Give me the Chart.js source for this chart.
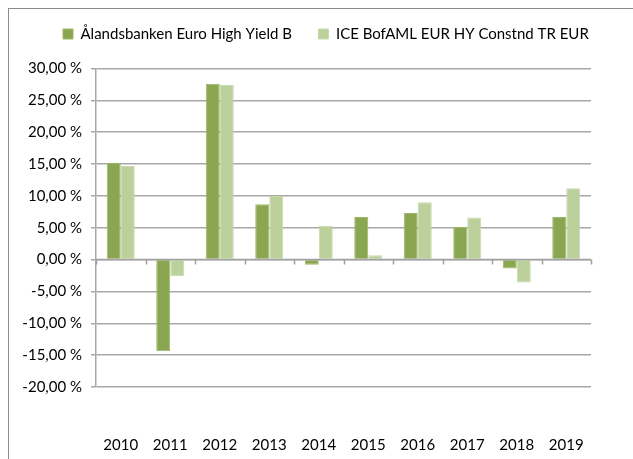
<!DOCTYPE html>
<html>
<head>
<meta charset="utf-8">
<script src="https://cdn.jsdelivr.net/npm/chart.js@4.4.0/dist/chart.umd.min.js"></script>
<style>
html, body { margin: 0; padding: 0; background: #fff; }
#wrap { position: relative; width: 633px; height: 459px; overflow: hidden; }
#frame { position: absolute; left: 8px; top: 8px; width: 700px; height: 600px; border-left: 1px solid #8c8c8c; border-top: 1px solid #8c8c8c; }
canvas { position: absolute; left: 0; top: 0; }
</style>
</head>
<body>
<div id="wrap">
  <div id="frame"></div>
  <canvas id="chart" width="633" height="459"></canvas>
</div>
<script>
var years = ['2010', '2011', '2012', '2013', '2014', '2015', '2016', '2017', '2018', '2019'];
var fundReturns = [15.2, -14.4, 27.6, 8.7, -0.8, 6.7, 7.3, 5.1, -1.4, 6.7];
var indexReturns = [14.7, -2.6, 27.4, 10.0, 5.3, 0.7, 9.0, 6.6, -3.6, 11.2];
var seriesNames = ['Ålandsbanken Euro High Yield B', 'ICE BofAML EUR HY Constnd TR EUR'];
var yMin = -20, yMax = 30, yStep = 5;

var FONT = 'Lato';
var FSIZE = 15;

// tick marks on the zero line between categories
var zeroTicks = {
  id: 'zeroTicks',
  afterDatasetsDraw: function (chart) {
    var x = chart.scales.x, y = chart.scales.y, ctx = chart.ctx;
    var y0 = y.getPixelForValue(0);
    var half = (x.getPixelForValue(1) - x.getPixelForValue(0)) / 2;
    ctx.save();
    ctx.strokeStyle = '#a0a0a0';
    ctx.lineWidth = 1.5;
    ctx.beginPath();
    ctx.moveTo(chart.chartArea.left, y0);
    ctx.lineTo(chart.chartArea.right, y0);
    for (var i = 0; i <= years.length; i++) {
      var px = Math.round(x.getPixelForValue(i) - half) + 0.5;
      ctx.moveTo(px, y0);
      ctx.lineTo(px, y0 + 5);
    }
    ctx.stroke();
    ctx.restore();
  }
};

// nudge the legend to the right (legend padding also sets the gap between items)
var legendShift = {
  id: 'legendShift',
  afterLayout: function (chart) {
    chart.legend.left += 36.5;
    chart.legend.right += 36.5;
  }
};

new Chart(document.getElementById('chart'), {
  type: 'bar',
  data: {
    labels: years,
    datasets: [{
      label: seriesNames[0],
      data: fundReturns,
      backgroundColor: '#8ba651',
      borderColor: '#9db867',
      borderWidth: 1
    }, {
      label: seriesNames[1],
      data: indexReturns,
      backgroundColor: '#bbd09a',
      borderColor: '#c8d9ab',
      borderWidth: 1
    }]
  },
  options: {
    responsive: false,
    animation: false,
    layout: { padding: { top: 0, right: 7, left: 0, bottom: 0 } },
    datasets: { bar: { categoryPercentage: 0.566, barPercentage: 1 } },
    plugins: {
      tooltip: { enabled: false },
      legend: {
        position: 'top',
        align: 'start',
        weight: 1000,
        labels: {
          boxWidth: 10,
          boxHeight: 10,
          padding: 26.5,
          color: '#000',
          font: { family: FONT, size: FSIZE }
        }
      },
      // empty title used as a spacer between legend and plot
      title: {
        display: true,
        text: '',
        weight: 500,
        padding: 0,
        font: { size: 17, lineHeight: 1 }
      }
    },
    scales: {
      x: {
        grid: { display: false, drawTicks: false },
        border: { display: false },
        ticks: { color: '#000', padding: 49, font: { family: FONT, size: FSIZE } },
        afterFit: function (s) { s.height = 72; }
      },
      y: {
        min: yMin,
        max: yMax,
        grid: { color: '#a8a8a8', lineWidth: 1.5, tickLength: 5 },
        border: { color: '#a8a8a8', width: 1.5 },
        ticks: {
          stepSize: yStep,
          color: '#000',
          padding: 9,
          font: { family: FONT, size: FSIZE },
          callback: function (value) {
            return value.toFixed(2).replace('.', ',') + ' %';
          }
        },
        afterFit: function (s) { s.width = 96; }
      }
    }
  },
  plugins: [zeroTicks, legendShift]
});
</script>
</body>
</html>
